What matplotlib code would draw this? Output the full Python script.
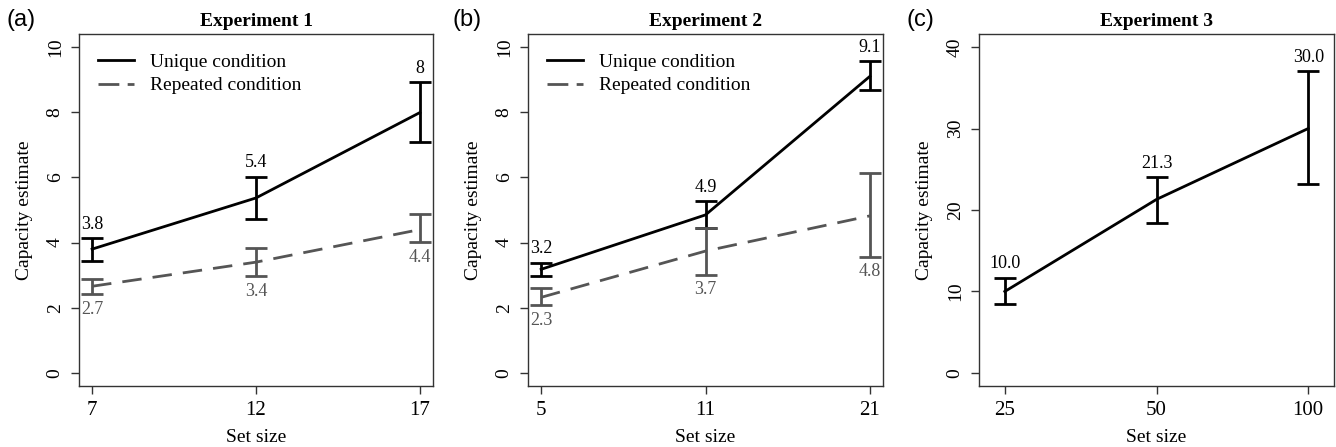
import matplotlib
matplotlib.use("Agg")
import matplotlib.pyplot as plt

# Experiment 1
exp1_sizes = ["7", "12", "17"]
exp1_uni = [3.8, 5.37, 7.99]
exp1_uni_lo = [3.45, 4.71, 7.10]
exp1_uni_hi = [4.14, 6.02, 8.92]
exp1_uni_lab = ["3.8", "5.4", "8"]
exp1_rep = [2.66, 3.40, 4.40]
exp1_rep_lo = [2.43, 2.97, 4.01]
exp1_rep_hi = [2.88, 3.84, 4.87]
exp1_rep_lab = ["2.7", "3.4", "4.4"]

# Experiment 2
exp2_sizes = ["5", "11", "21"]
exp2_uni = [3.18, 4.85, 9.10]
exp2_uni_lo = [2.99, 4.44, 8.67]
exp2_uni_hi = [3.38, 5.27, 9.57]
exp2_uni_lab = ["3.2", "4.9", "9.1"]
exp2_rep = [2.32, 3.74, 4.82]
exp2_rep_lo = [2.09, 3.02, 3.57]
exp2_rep_hi = [2.61, 4.44, 6.13]
exp2_rep_lab = ["2.3", "3.7", "4.8"]

# Experiment 3
exp3_sizes = ["25", "50", "100"]
exp3_uni = [10.0, 21.3, 30.0]
exp3_uni_lo = [8.45, 18.39, 23.13]
exp3_uni_hi = [11.67, 24.04, 37.03]
exp3_uni_lab = ["10.0", "21.3", "30.0"]

SERIF = ["Liberation Serif", "DejaVu Serif"]
plt.rcParams["font.family"] = SERIF
GREY = "#555555"
W, H = 1336, 447


def style_axes(ax, ticks, ylim, title):
    ax.set_xlim(0.92, 3.08)
    ax.set_ylim(*ylim)
    ax.set_xticks([1, 2, 3])
    ax.set_xticklabels(exp_labels[title], fontsize=15)
    ax.set_yticks(ticks)
    ax.set_yticklabels([str(t) for t in ticks], rotation=90, va="center", fontsize=14)
    ax.tick_params(length=6, width=1, color="#333333", pad=5)
    for s in ax.spines.values():
        s.set_color("#333333")
        s.set_linewidth(1.0)
    ax.set_title(title, fontsize=14, fontweight="bold", pad=6)
    ax.set_xlabel("Set size", fontsize=14, labelpad=6)
    ax.set_ylabel("Capacity estimate", fontsize=14, labelpad=10)


def draw_series(ax, y, lo, hi, labels, color, ls, above, off):
    x = [1, 2, 3]
    ax.plot(x, y, color=color, lw=2, ls=ls, dashes=(7, 4) if ls == "--" else (None, None),
            zorder=3)
    ax.errorbar(x, y, yerr=[[a - b for a, b in zip(y, lo)], [b - a for a, b in zip(y, hi)]],
                fmt="none", ecolor=color, elinewidth=2, capsize=8, capthick=2, zorder=3)
    for xi, l, h, t in zip(x, lo, hi, labels):
        if above:
            ax.annotate(t, (xi, h), xytext=(0, off), textcoords="offset points",
                        ha="center", va="center", fontsize=13, color=color)
        else:
            ax.annotate(t, (xi, l), xytext=(0, -off), textcoords="offset points",
                        ha="center", va="center", fontsize=13, color=color)


exp_labels = {"Experiment 1": exp1_sizes, "Experiment 2": exp2_sizes, "Experiment 3": exp3_sizes}

fig = plt.figure(figsize=(W / 100, H / 100), dpi=100)
bot = (H - 386) / H
hgt = (386 - 34) / H
ax1 = fig.add_axes([79 / W, bot, 354 / W, hgt])
ax2 = fig.add_axes([528 / W, bot, 355 / W, hgt])
ax3 = fig.add_axes([979 / W, bot, 355 / W, hgt])

draw_series(ax1, exp1_uni, exp1_uni_lo, exp1_uni_hi, exp1_uni_lab, "black", "-", True, 10)
draw_series(ax1, exp1_rep, exp1_rep_lo, exp1_rep_hi, exp1_rep_lab, GREY, "--", False, 11)
style_axes(ax1, [0, 2, 4, 6, 8, 10], (-0.4, 10.4), "Experiment 1")

draw_series(ax2, exp2_uni, exp2_uni_lo, exp2_uni_hi, exp2_uni_lab, "black", "-", True, 10)
draw_series(ax2, exp2_rep, exp2_rep_lo, exp2_rep_hi, exp2_rep_lab, GREY, "--", False, 11)
style_axes(ax2, [0, 2, 4, 6, 8, 10], (-0.4, 10.4), "Experiment 2")

draw_series(ax3, exp3_uni, exp3_uni_lo, exp3_uni_hi, exp3_uni_lab, "black", "-", True, 10)
style_axes(ax3, [0, 10, 20, 30, 40], (-1.6, 41.6), "Experiment 3")
ax3.set_xlim(0.83, 3.17)

# legends (a, b)
for ax in (ax1, ax2):
    h_u, = ax.plot([], [], color="black", lw=2)
    h_r, = ax.plot([], [], color=GREY, lw=2, dashes=(7.5, 3))
    ax.legend([h_u, h_r], ["Unique condition", "Repeated condition"], loc="upper left",
              frameon=False, fontsize=14, handlelength=1.85, handletextpad=0.8,
              borderaxespad=0.6, labelspacing=0.3, bbox_to_anchor=(0.0, 1.0))

for x, t in [(6, "(a)"), (452, "(b)"), (906, "(c)")]:
    fig.text(x / W, 1 - 20 / H, t, fontsize=17, family=["Liberation Sans", "DejaVu Sans"],
             va="center", ha="left")

fig.savefig("out.png", dpi=100)
